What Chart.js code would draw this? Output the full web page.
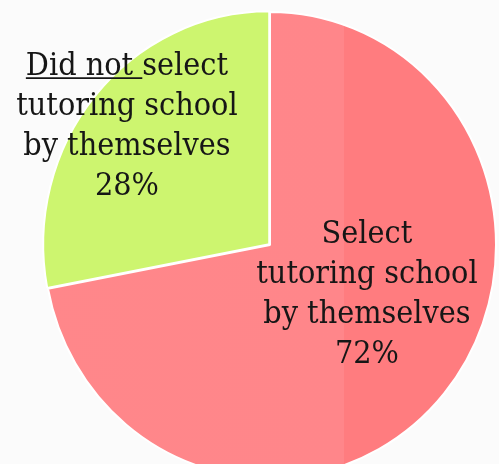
<!DOCTYPE html>
<html>
<head>
<meta charset="utf-8">
<script src="https://cdn.jsdelivr.net/npm/chart.js@4"></script>
<style>
  html, body { margin: 0; padding: 0; background: #fbfbfb; overflow: hidden; }
  #wrap { width: 499px; height: 464px; position: relative; }
</style>
</head>
<body>
<div id="wrap"><canvas id="pie"></canvas></div>
<script>
const categories = ['Select tutoring school by themselves', 'Did not select tutoring school by themselves'];
const shares = [72, 28];
// label text per slice, one entry per line; first part of the "did not" line is underlined
const labelLines = [
  [['Select'], ['tutoring school'], ['by themselves']],
  [['Did not ', 'select'], ['tutoring school'], ['by themselves']],
];

const FONT = "32px 'DejaVu Serif Condensed', 'DejaVu Serif', serif";

// the pie is a little taller than wide: stretch the arcs vertically around
// their centre, then draw the labels unstretched on top
const ovalPie = {
  id: 'ovalPie',
  beforeDatasetsDraw(chart, args, opts) {
    const arc = chart.getDatasetMeta(0).data[0];
    const { ctx } = chart;
    ctx.save();
    ctx.translate(arc.x, arc.y);
    ctx.scale(1, opts.stretch);
    ctx.translate(-arc.x, -arc.y);
  },
  afterDatasetsDraw(chart, args, opts) {
    const { ctx } = chart;
    ctx.restore();
    const meta = chart.getDatasetMeta(0);
    ctx.save();
    ctx.font = FONT;
    ctx.fillStyle = '#161616';
    ctx.strokeStyle = '#161616';
    ctx.textBaseline = 'alphabetic';
    ctx.textAlign = 'left';
    meta.data.forEach((arc, i) => {
      const r = arc.outerRadius;
      const cx = arc.x + opts.anchors[i][0] * r;
      const cy = arc.y + opts.anchors[i][1] * r;
      const lines = labelLines[i].concat([[shares[i] + '%']]);
      const n = lines.length;
      lines.forEach((parts, j) => {
        const base = cy + (j - (n - 1) / 2) * opts.lineHeight + 11;
        const full = parts.join('');
        const x = cx - ctx.measureText(full).width / 2;
        ctx.fillText(full, x, base);
        if (parts.length > 1) {
          const uw = ctx.measureText(parts[0]).width;
          ctx.lineWidth = 1.6;
          ctx.beginPath();
          ctx.moveTo(x, base + 3);
          ctx.lineTo(x + uw, base + 3);
          ctx.stroke();
        }
      });
    });
    ctx.restore();
  }
};

// red slice has a lighter band left of x=344, green is flat
function sliceFill(context) {
  if (context.dataIndex === 1) return '#cdf56f';
  const c = context.chart;
  const g = c.ctx.createLinearGradient(0, 0, c.width, 0);
  const edge = 344 / c.width;
  g.addColorStop(0, '#ff878a');
  g.addColorStop(edge, '#ff868a');
  g.addColorStop(edge, '#ff7c7f');
  g.addColorStop(1, '#ff7c7f');
  return g;
}

new Chart(document.getElementById('pie'), {
  type: 'pie',
  data: {
    labels: categories,
    datasets: [{
      data: shares,
      backgroundColor: sliceFill,
      borderColor: '#ffffff',
      borderWidth: 2,
      offset: [0, 4],
      radius: 226,
      clip: false,
    }],
  },
  options: {
    responsive: true,
    maintainAspectRatio: false,
    animation: false,
    layout: { padding: { left: 41, right: 0, top: 26, bottom: 0 } },
    plugins: {
      legend: { display: false },
      tooltip: { enabled: false },
      ovalPie: {
        stretch: 233 / 226,
        anchors: [[0.429, 0.206], [-0.633, -0.535]],
        lineHeight: 40,
      },
    },
  },
  plugins: [ovalPie],
});
</script>
</body>
</html>
